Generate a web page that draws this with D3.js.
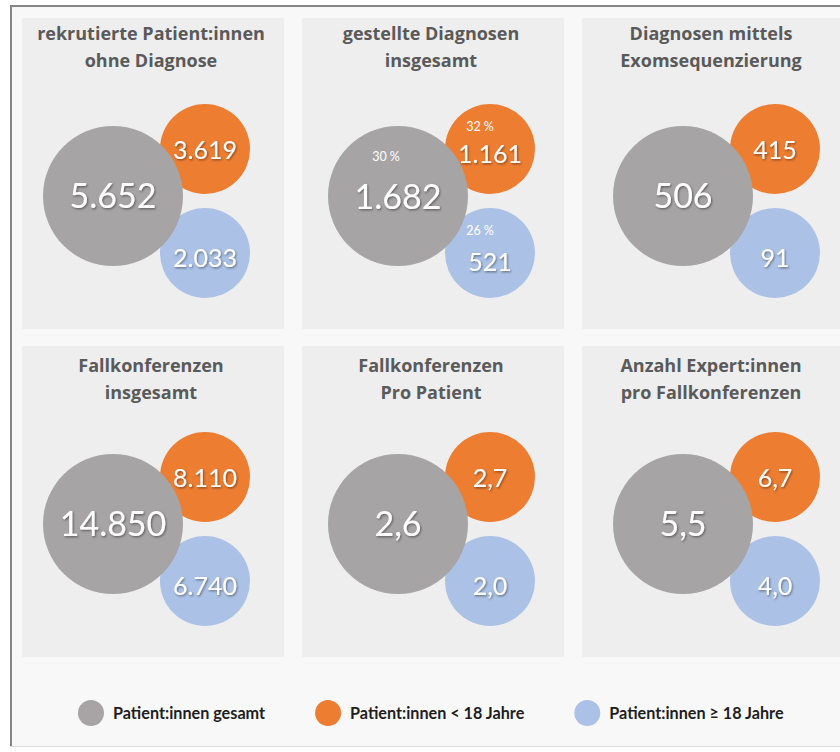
<!DOCTYPE html>
<html>
<head>
<meta charset="utf-8">
<script src="https://cdn.jsdelivr.net/npm/d3@7"></script>
<style>
  html, body { margin: 0; padding: 0; background: #ffffff; }
  svg { display: block; }
</style>
</head>
<body>
<svg id="chart" width="840" height="752"></svg>
<script>
// ---------- data ----------
const panelTitles = [
  ["rekrutierte Patient:innen", "ohne Diagnose"],
  ["gestellte Diagnosen", "insgesamt"],
  ["Diagnosen mittels", "Exomsequenzierung"],
  ["Fallkonferenzen", "insgesamt"],
  ["Fallkonferenzen", "Pro Patient"],
  ["Anzahl Expert:innen", "pro Fallkonferenzen"]
];
const totalValues   = [5652, 1682, 506, 14850, 2.6, 5.5];
const under18Values = [3619, 1161, 415, 8110, 2.7, 6.7];
const adultValues   = [2033, 521, 91, 6740, 2.0, 4.0];
const valueDecimals = [0, 0, 0, 0, 1, 1];
const totalPercent   = [null, 30, null, null, null, null];
const under18Percent = [null, 32, null, null, null, null];
const adultPercent   = [null, 26, null, null, null, null];
const seriesNames = ["Patient:innen gesamt", "Patient:innen < 18 Jahre", "Patient:innen \u2265 18 Jahre"];

// ---------- setup ----------
const svg = d3.select("#chart");
const W = 840, H = 752;
const de = d3.formatLocale({decimal: ",", thousands: ".", grouping: [3], currency: ["", " €"]});
const fmt = (v, d) => d ? de.format(",." + d + "f")(v) : de.format(",d")(v);

const color = d3.scaleOrdinal().domain(seriesNames).range(["#a6a4a4", "#ed7d31", "#abc2e6"]);
const radius = d3.scaleOrdinal().domain(seriesNames).range([70, 45, 45]);

const defs = svg.append("defs");
const f = defs.append("filter").attr("id", "tshadow").attr("x", "-20%").attr("y", "-20%").attr("width", "140%").attr("height", "140%");
f.append("feDropShadow").attr("dx", 1).attr("dy", 1.2).attr("stdDeviation", 0.9)
  .attr("flood-color", "#000").attr("flood-opacity", 0.45);

// frame
svg.append("rect").attr("x", 11).attr("y", 6).attr("width", W).attr("height", 740)
  .attr("fill", "#f8f8f8");
svg.append("line").attr("x1", 11).attr("x2", 11).attr("y1", 5).attr("y2", 747)
  .attr("stroke", "#858585").attr("stroke-width", 2);
svg.append("line").attr("x1", 10).attr("x2", W).attr("y1", 6).attr("y2", 6)
  .attr("stroke", "#858585").attr("stroke-width", 2);
svg.append("line").attr("x1", 10).attr("x2", W).attr("y1", 746.5).attr("y2", 746.5)
  .attr("stroke", "#dcdcdc").attr("stroke-width", 1);

// scales for layout
const colScale = d3.scaleBand().domain([0, 1, 2]).range([22, 844]).paddingInner(0.0643);
const rowScale = d3.scaleBand().domain([0, 1]).range([18, 657]).paddingInner(0.052);
const clusterX = d3.scalePoint().domain([0, 1, 2]).range([113, 683]);

const panels = panelTitles.map((t, i) => ({
  i, col: i % 3, row: Math.floor(i / 3), title: t,
  series: [
    {name: seriesNames[1], value: under18Values[i], pct: under18Percent[i]},
    {name: seriesNames[2], value: adultValues[i], pct: adultPercent[i]},
    {name: seriesNames[0], value: totalValues[i], pct: totalPercent[i]}
  ],
  dec: valueDecimals[i]
}));

const g = svg.selectAll("g.panel").data(panels).join("g").attr("class", "panel");

g.append("rect")
  .attr("x", d => colScale(d.col)).attr("y", d => rowScale(d.row))
  .attr("width", colScale.bandwidth()).attr("height", rowScale.bandwidth())
  .attr("fill", "#eeeeee");

g.each(function(d) {
  const sel = d3.select(this);
  const cx = colScale(d.col) + colScale.bandwidth() / 2;
  const top = rowScale(d.row);
  d.title.forEach((line, k) => {
    sel.append("text")
      .attr("x", cx - 2).attr("y", top + 22 + d.row * 4 + k * 26.5)
      .attr("text-anchor", "middle")
      .attr("font-family", "'Open Sans', Lato, sans-serif")
      .attr("font-weight", 700).attr("font-size", 18)
      .attr("fill", "#5a5a5a")
      .text(line);
  });

  const gx = clusterX(d.col);
  const gy = top + 178;
  const pos = {};
  pos[seriesNames[0]] = [gx, gy];
  pos[seriesNames[1]] = [gx + 92, gy - 47];
  pos[seriesNames[2]] = [gx + 92, gy + 57];

  sel.selectAll("circle.bubble").data(d.series).join("circle").attr("class", "bubble")
    .attr("cx", s => pos[s.name][0]).attr("cy", s => pos[s.name][1])
    .attr("r", s => radius(s.name))
    .attr("fill", s => color(s.name));

  const hasPct = d.series.some(s => s.pct != null);
  d.series.forEach(s => {
    const [x, y] = pos[s.name];
    const big = s.name === seriesNames[0];
    const dy = big ? 12 : (s.name === seriesNames[1] ? 10 : 14);
    const shift = hasPct ? (big ? 1 : 4) : 0;
    sel.append("text")
      .attr("x", x).attr("y", y + dy + shift)
      .attr("text-anchor", "middle")
      .attr("font-family", "Lato, 'Open Sans', sans-serif")
      .attr("font-size", big ? 34 : 25)
      .attr("fill", "#ffffff")
      .attr("filter", "url(#tshadow)")
      .text(fmt(s.value, d.dec));
    if (s.pct != null) {
      const px = big ? x - 12 : x - 10;
      const py = big ? y - 35 : y - 18;
      sel.append("text")
        .attr("x", px).attr("y", py)
        .attr("text-anchor", "middle")
        .attr("font-family", "Lato, 'Open Sans', sans-serif")
        .attr("font-size", 12.5)
        .attr("fill", "#ffffff")
        .text(s.pct + " %");
    }
  });
});

// legend: items laid out one after another
const lg = svg.selectAll("g.legend").data(seriesNames).join("g").attr("class", "legend");
lg.append("circle").attr("r", 13).attr("fill", n => color(n));
lg.append("text").attr("x", 22).attr("y", 5.5)
  .attr("font-family", "Lato, 'Open Sans', sans-serif")
  .attr("font-weight", 700).attr("font-size", 16.2)
  .attr("fill", "#1e1e1e")
  .text(n => n);
let lx = 91;
lg.each(function() {
  const item = d3.select(this);
  item.attr("transform", `translate(${lx},713)`);
  lx += 22 + item.select("text").node().getComputedTextLength() + 63;
});
</script>
</body>
</html>
